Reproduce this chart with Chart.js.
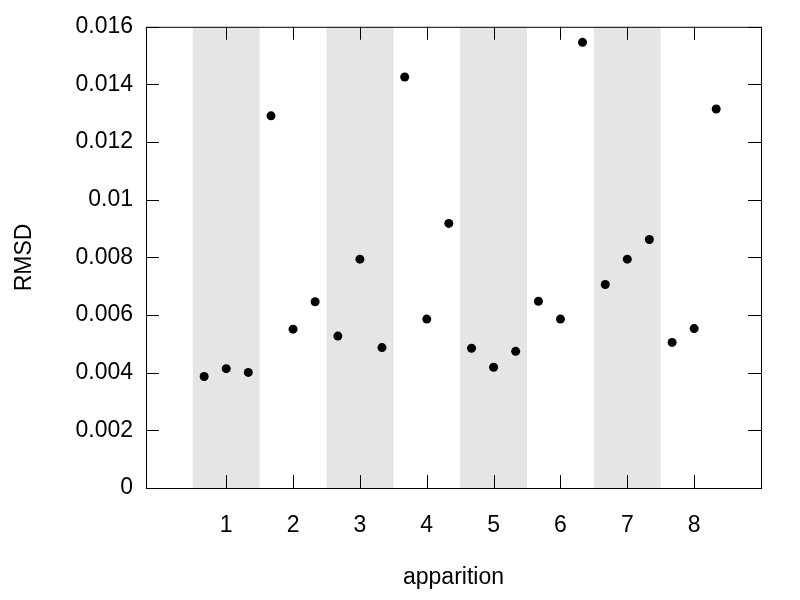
<!DOCTYPE html>
<html>
<head>
<meta charset="utf-8">
<script src="https://cdn.jsdelivr.net/npm/chart.js@4/dist/chart.umd.min.js"></script>
<style>
  html, body { margin: 0; padding: 0; background: #fff; }
</style>
</head>
<body>
<canvas id="chart" width="800" height="600"></canvas>
<script>
// ── Data ──────────────────────────────────────────────────────────────────────
const xPositions = [0.67, 1, 1.33, 1.67, 2, 2.33, 2.67, 3, 3.33, 3.67, 4, 4.33,
                    4.67, 5, 5.33, 5.67, 6, 6.33, 6.67, 7, 7.33, 7.67, 8, 8.33];
const rmsd = [0.00387, 0.00414, 0.00401, 0.01291, 0.00551, 0.00646, 0.00527, 0.00794,
              0.00487, 0.01426, 0.00586, 0.00918, 0.00485, 0.00419, 0.00474, 0.00648,
              0.00586, 0.01546, 0.00706, 0.00794, 0.00862, 0.00505, 0.00553, 0.01315];
const xTicks = [1, 2, 3, 4, 5, 6, 7, 8];
const yTicks = [0, 0.002, 0.004, 0.006, 0.008, 0.01, 0.012, 0.014, 0.016];
const shadedApparitions = [1, 3, 5, 7];

Chart.defaults.font.family = "'Liberation Sans', Arial, sans-serif";
Chart.defaults.font.size = 23;
Chart.defaults.color = '#000';

const TICK_LEN = 13;

// ── Shaded bands, border and inward ticks (gnuplot look) ──────────────────────
const frame = {
  id: 'frame',
  beforeDatasetsDraw(chart) {
    const { ctx, chartArea: a, scales: { x, y } } = chart;
    ctx.save();
    ctx.fillStyle = '#e5e5e5';
    shadedApparitions.forEach(n => {
      const l = x.getPixelForValue(n - 0.5);
      const r = x.getPixelForValue(n + 0.5);
      ctx.fillRect(l, a.top, r - l, a.bottom - a.top);
    });

    ctx.strokeStyle = '#000';
    ctx.lineWidth = 1;
    ctx.beginPath();
    xTicks.forEach(v => {
      const px = Math.round(x.getPixelForValue(v)) + 0.5;
      ctx.moveTo(px, a.bottom); ctx.lineTo(px, a.bottom - TICK_LEN);
      ctx.moveTo(px, a.top);    ctx.lineTo(px, a.top + TICK_LEN);
    });
    yTicks.forEach(v => {
      const py = Math.round(y.getPixelForValue(v)) + 0.5;
      ctx.moveTo(a.left, py);  ctx.lineTo(a.left + TICK_LEN, py);
      ctx.moveTo(a.right, py); ctx.lineTo(a.right - TICK_LEN, py);
    });
    ctx.stroke();
    ctx.strokeRect(a.left + 0.5, a.top + 0.5, a.right - a.left, a.bottom - a.top);
    ctx.restore();
  }
};

new Chart(document.getElementById('chart'), {
  type: 'scatter',
  data: {
    datasets: [{
      data: xPositions.map((x, i) => ({ x, y: rmsd[i] })),
      backgroundColor: '#000',
      borderWidth: 0,
      pointRadius: 4.5,
    }]
  },
  options: {
    responsive: false,
    animation: false,
    layout: { padding: { top: 26, right: 39, left: 0, bottom: 0 } },
    plugins: { legend: { display: false }, tooltip: { enabled: false } },
    scales: {
      x: {
        type: 'linear',
        min: -0.2, max: 9,
        afterBuildTicks: s => { s.ticks = xTicks.map(v => ({ value: v })); },
        afterFit: s => { s.height = 112; },
        grid: { display: false, drawTicks: false },
        border: { display: false },
        ticks: { padding: 24, maxRotation: 0, autoSkip: false, callback: v => String(v) },
        title: { display: true, text: 'apparition', padding: { top: 9, bottom: 9 } },
      },
      y: {
        type: 'linear',
        min: 0, max: 0.016,
        afterBuildTicks: s => { s.ticks = yTicks.map(v => ({ value: v })); },
        afterFit: s => { s.width = 146; },
        grid: { display: false, drawTicks: false },
        border: { display: false },
        ticks: { padding: 13, autoSkip: false, callback: v => String(+v.toFixed(3)) },
        title: { display: true, text: 'RMSD', padding: { top: 11, bottom: 11 } },
      }
    }
  },
  plugins: [frame]
});
</script>
</body>
</html>
